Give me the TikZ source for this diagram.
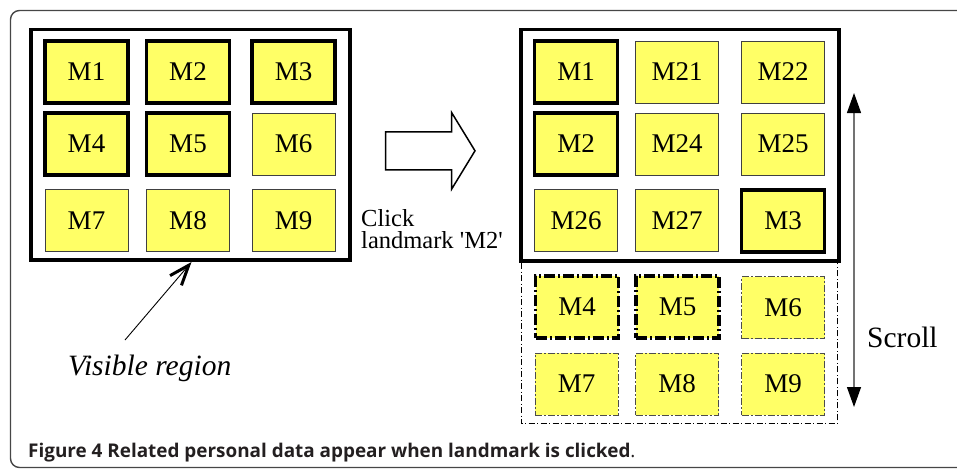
\documentclass[tikz,border=0pt]{standalone}
\usepackage{fontspec}
\setmainfont{Liberation Serif}
\newfontfamily\capfont{Open Sans}
\usetikzlibrary{arrows.meta}

\definecolor{notefill}{RGB}{255,255,102}
\definecolor{framegray}{RGB}{70,70,70}
\definecolor{captext}{RGB}{35,31,32}

\begin{document}
\begin{tikzpicture}[x=1pt,y=-1pt,
  cell/.style={draw=black!75, line width=0.8pt, fill=notefill,
    minimum width=83pt, minimum height=62pt, inner sep=0pt,
    font=\fontsize{27}{30}\selectfont},
  marked/.style={cell, draw=black, line width=3.3pt},
  hiddenmarked/.style={cell, draw=black, line width=3.2pt,
    dash pattern=on 11pt off 3pt on 2pt off 3pt},
  hidden/.style={cell, draw=black!70, dash pattern=on 7pt off 2pt on 2pt off 2pt},
  panel/.style={draw, line width=3.6pt, inner sep=0pt},
  lbl/.style={inner sep=0pt, anchor=base west}
]
\useasboundingbox (0,0) rectangle (957,468);

% outer figure frame
\draw[framegray, line width=1.4pt, rounded corners=9pt]
  (975,10.5) -- (10.5,10.5) -- (10.5,467.5) -- (975,467.5);

% ---- left: all landmarks before the click ----
\node[panel, minimum width=319pt, minimum height=230.5pt] (leftview) at (190.5,144.75) {};
\node[marked] (a1) at (86.5,72)  {M1};
\node[marked] (a2) at (188,72)   {M2};
\node[marked] (a3) at (293.5,72) {M3};
\node[marked] (a4) at (86.5,144) {M4};
\node[marked] (a5) at (188,144)  {M5};
\node[cell]   (a6) at (293.5,144) {M6};
\node[cell]   (a7) at (86.5,220.5) {M7};
\node[cell]   (a8) at (188,220.5)  {M8};
\node[cell]   (a9) at (293.5,220.5) {M9};

% pointer to the visible region
\node[lbl, font=\itshape\fontsize{29.5}{32}\selectfont] (vislbl) at (68,375) {Visible region};
\coordinate (ptail) at (125,340);
\coordinate (ptip) at (191.5,262);
\draw[line width=0.9pt, -{Straight Barb[length=20pt, width=15pt, line width=3pt]}] (ptail) -- (ptip);

% block arrow for the click action
\draw[line width=1.5pt, line join=miter]
  (385.7,131.8) -- (451.7,131.8) -- (451.7,112.7) -- (475,150.8)
  -- (451.7,189) -- (451.7,169.8) -- (385.7,169.8) -- cycle;
% the base anchor of a two-line node sits on its last line
\node[lbl, align=left, font=\fontsize{24.5}{21.5}\selectfont] (clicklbl) at (361,248)
  {Click\\landmark \textquotesingle M2\textquotesingle};

% ---- right: related landmarks after the click ----
\node[panel, minimum width=318pt, minimum height=231.5pt] (rightview) at (680,145.25) {};
\node[marked] (b1)  at (576,72)  {M1};
\node[cell]   (b21) at (677,72)  {M21};
\node[cell]   (b22) at (783,72)  {M22};
\node[marked] (b2)  at (576,144) {M2};
\node[cell]   (b24) at (677,144) {M24};
\node[cell]   (b25) at (783,144) {M25};
\node[cell]   (b26) at (576,220.5) {M26};
\node[cell]   (b27) at (677,220.5) {M27};
\node[marked] (b3)  at (783,221) {M3};

% scrolled-out part of the list
\draw[line width=0.7pt, dash pattern=on 6pt off 2.5pt on 1pt off 2.5pt]
  (521,263) -- (521,423.3) -- (837.7,423.3) -- (837.7,263);
\node[hiddenmarked] (b4) at (577,307) {M4};
\node[hiddenmarked] (b5) at (677.5,307) {M5};
\node[hidden] (b6) at (783,307.5) {M6};
\node[hidden] (b7) at (576.5,384) {M7};
\node[hidden] (b8) at (677,384) {M8};
\node[hidden] (b9) at (783,384) {M9};

% scroll indicator
\coordinate (stop) at (854,93);
\coordinate (sbot) at (854,407);
\draw[black!55, line width=1.2pt,
  {Triangle[length=20pt, width=14pt, color=black]}-{Triangle[length=20pt, width=14pt, color=black]}]
  (stop) -- (sbot);
\node[lbl, font=\fontsize{29.5}{32}\selectfont] (scrolllbl) at (867,347) {Scroll};

% caption
\node[lbl, font=\capfont\bfseries\fontsize{18.9}{21}\selectfont, text=captext] (caption) at (28,457.3)
  {Figure 4 Related personal data appear when landmark is clicked{\mdseries.}};
\end{tikzpicture}
\end{document}
